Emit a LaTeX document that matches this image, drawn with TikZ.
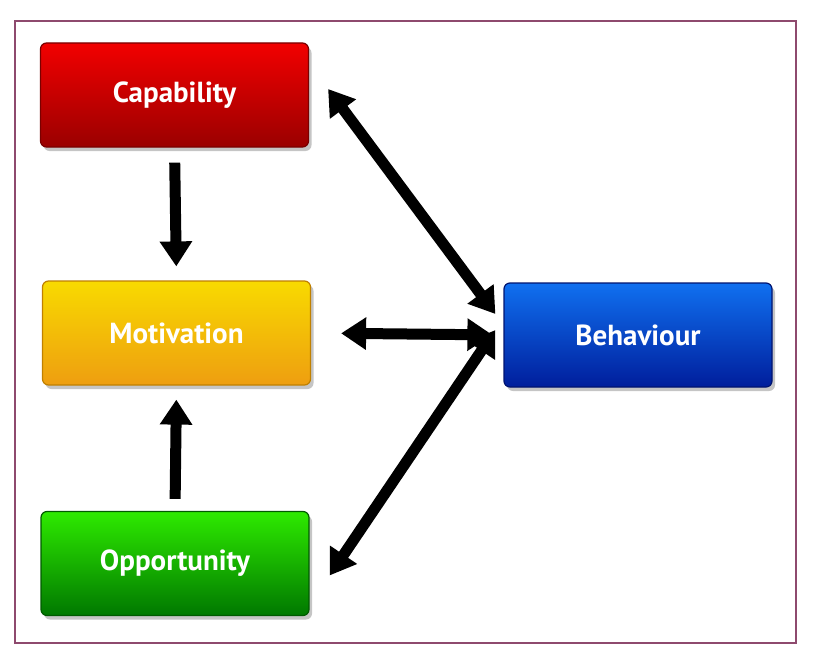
\documentclass[tikz,border=0pt]{standalone}
\usepackage{fontspec}
\setmainfont{PT Sans}
\usetikzlibrary{arrows.meta,shadows,calc}
\definecolor{framec}{HTML}{8E4A6E}
\definecolor{redT}{HTML}{F20000}\definecolor{redB}{HTML}{9A0000}\definecolor{redD}{HTML}{7A0000}
\definecolor{yelT}{HTML}{F8DA00}\definecolor{yelB}{HTML}{EE9E10}\definecolor{yelD}{HTML}{C08000}
\definecolor{grnT}{HTML}{2EEA00}\definecolor{grnB}{HTML}{007800}\definecolor{grnD}{HTML}{005A00}
\definecolor{bluT}{HTML}{1070F0}\definecolor{bluB}{HTML}{001E9C}\definecolor{bluD}{HTML}{001470}
\tikzset{
  box/.style={rectangle, rounded corners=6pt, minimum width=268pt, minimum height=104pt,
    text=white, font=\bfseries\fontsize{29}{34}\selectfont, line width=1.2pt,
    drop shadow={opacity=0.45, shadow xshift=3pt, shadow yshift=-4pt, fill=gray}},
  fat/.style={line width=11pt, draw=black, -{Triangle[length=25pt,width=31pt]}},
  fatboth/.style={line width=11pt, draw=black, {Triangle[length=25pt,width=31pt]}-{Triangle[length=25pt,width=31pt]}}
}
\begin{document}
\begin{tikzpicture}[x=1pt,y=-1pt]
\useasboundingbox (0,0) rectangle (827,669);
\fill[white] (0,0) rectangle (827,669);
\draw[framec, line width=2pt] (15,21) rectangle (796,643);
\node[box, draw=redD, top color=redT, bottom color=redB] (cap) at (174.5,95) {Capability};
\node[box, draw=yelD, top color=yelT, bottom color=yelB] (mot) at (176.5,333) {Motivation};
\node[box, draw=grnD, top color=grnT, bottom color=grnB] (opp) at (175,563.5) {Opportunity};
\node[box, draw=bluD, top color=bluT, bottom color=bluB] (beh) at (638,335) {Behaviour};
\draw[fat, shorten <=15pt, shorten >=14pt] (cap.south) -- (mot.north);
\draw[fat, shorten <=12pt, shorten >=14pt] (opp.north) -- (mot.south);
\draw[fatboth, shorten <=30pt, shorten >=11pt] (mot.east) -- (beh.west);
\draw[fatboth] ($(cap.east)+(19,-6)$) -- ($(beh.west)+(-8,-21)$);
\draw[fatboth] ($(opp.east)+(20,12)$) -- ($(beh.west)+(-8,-5)$);
\end{tikzpicture}
\end{document}
